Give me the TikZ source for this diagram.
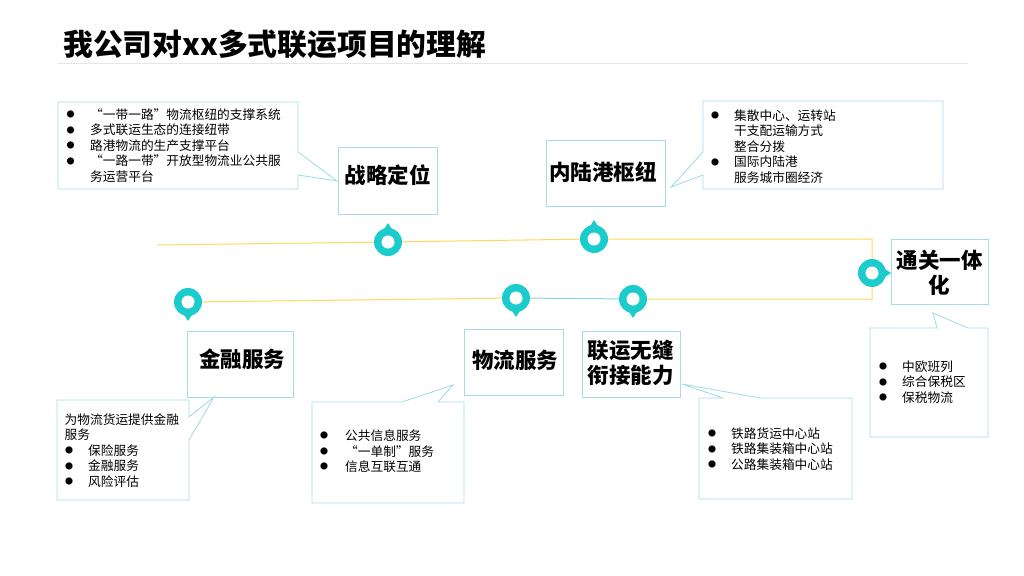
\documentclass[tikz,border=0pt]{standalone}
\usepackage{fontspec}
\setmainfont{Noto Sans CJK SC}
\usetikzlibrary{calc}
\definecolor{boxc}{HTML}{A6DCE9}
\definecolor{pinc}{HTML}{1CCCCC}
\definecolor{yelc}{HTML}{FFD65E}
\definecolor{cyanl}{HTML}{86D3E2}
\definecolor{rulec}{HTML}{E6E6E6}
\newcommand\bulx[1]{\makebox[#1][l]{\hspace{0.5pt}\raisebox{1.6pt}{\fontsize{8}{8}\selectfont ●}}}
\tikzset{
  hbox/.style={draw=boxc, line width=0.9pt},
  htext/.style={font=\fontsize{21.5}{25}\selectfont\bfseries, inner sep=0pt, align=center},
  btext/.style={font=\fontsize{12.7}{15.5}\selectfont, inner sep=0pt, align=left, anchor=north west},
  yline/.style={draw=yelc, line width=1pt},
  cline/.style={draw=cyanl, line width=1pt},
  mappin/.pic={
    \fill[pinc] (0pt,0pt) circle (14pt);
    \fill[pinc] (-4.5pt,12pt) -- (0pt,19pt) -- (4.5pt,12pt) -- cycle;
    \fill[white] (0pt,0pt) circle (6.5pt);
  }
}
\begin{document}
\begin{tikzpicture}[x=1pt,y=-1pt]
\fill[white] (0,0) rectangle (1024,575);
\useasboundingbox (0,0) rectangle (1024,575);

% title
\node[font=\fontsize{29.8}{31}\selectfont\bfseries, anchor=west, inner sep=0pt] (title) at (63,44.5) {我公司对xx多式联运项目的理解};
\coordinate (r1) at (57,63);
\coordinate (r2) at (968,63);
\draw[rulec, line width=0.8pt] (r1) -- (r2);

% pin positions and line ends
\coordinate (s) at (157,245);
\coordinate (p1) at (388,242);
\coordinate (p2) at (594,239);
\coordinate (k1) at (872,239);
\coordinate (p6) at (872,273);
\coordinate (k2) at (872,299);
\coordinate (p5) at (633,299);
\coordinate (p4) at (516,298);
\coordinate (p3) at (188,302);

\draw[yline] (s) -- (p1) -- (p2) -- (k1) -- (k2) -- (p5);
\draw[cline] (p5) -- (p4);
\draw[yline] (p4) -- (p3);

\pic at (p1) {mappin};
\pic at (p2) {mappin};
\pic[rotate=180] at (p3) {mappin};
\pic[rotate=180] at (p4) {mappin};
\pic[rotate=180] at (p5) {mappin};
\pic[rotate=-90] at (p6) {mappin};

% heading boxes
\draw[hbox] (338,147) rectangle (437,214);
\node[htext] (h1) at (387.5,175) {战略定位};
\draw[hbox] (546,140) rectangle (665,206);
\node[htext] (h2) at (603,172) {内陆港枢纽};
\draw[hbox] (891,239) rectangle (988,304);
\node[htext] (h3) at (939.5,272.5) {通关一体\\化};
\draw[hbox] (187,331) rectangle (293,397);
\node[htext] (h4) at (242,359) {金融服务};
\draw[hbox] (464,329) rectangle (563,395);
\node[htext] (h5) at (515,360) {物流服务};
\draw[hbox] (582,331) rectangle (680,397);
\node[htext] (h6) at (630.5,362.5) {联运无缝\\衔接能力};

% callouts
\draw[hbox] (58,102) -- (298,102) -- (298,152) -- (337,181) -- (298,175) -- (298,189) -- (58,189) -- cycle;
\node[btext] (c1) at (66,108.5) {\bulx{24pt}“一带一路”物流枢纽的支撑系统\\
\bulx{24pt}多式联运生态的连接纽带\\
\bulx{24pt}路港物流的生产支撑平台\\
\bulx{24pt}“一路一带”开放型物流业公共服\\
\hspace*{24pt}务运营平台};

\draw[hbox] (703,101) -- (943,101) -- (943,189) -- (703,189) -- (703,175) -- (671,187) -- (703,152) -- cycle;
\node[btext] (c2) at (710.5,109.5) {\bulx{23.5pt}集散中心、运转站\\
\hspace*{23.5pt}干支配运输方式\\
\hspace*{23.5pt}整合分拨\\
\bulx{23.5pt}国际内陆港\\
\hspace*{23.5pt}服务城市圈经济};

\draw[hbox] (57,400) -- (189,400) -- (189,417) -- (214,397) -- (189,440) -- (189,500) -- (57,500) -- cycle;
\node[btext] (c3) at (64.5,413.5) {为物流货运提供金融\\服务\\
\bulx{23.5pt}保险服务\\
\bulx{23.5pt}金融服务\\
\bulx{23.5pt}风险评估};

\draw[hbox] (312,402) -- (402,402) -- (453,385) -- (438,402) -- (464,402) -- (464,503) -- (312,503) -- cycle;
\node[btext] (c4) at (319.5,429.5) {\bulx{25.5pt}公共信息服务\\
\bulx{25.5pt}“一单制”服务\\
\bulx{25.5pt}信息互联互通};

\draw[hbox] (699,398) -- (723,398) -- (682,384) -- (760,398) -- (852,398) -- (852,499) -- (699,499) -- cycle;
\node[btext] (c5) at (707.5,427.5) {\bulx{23.5pt}铁路货运中心站\\
\bulx{23.5pt}铁路集装箱中心站\\
\bulx{23.5pt}公路集装箱中心站};

\draw[hbox] (870,328) -- (937,328) -- (933,313) -- (968,328) -- (988,328) -- (988,437) -- (870,437) -- cycle;
\node[btext] (c6) at (878.5,360.5) {\bulx{23.5pt}中欧班列\\
\bulx{23.5pt}综合保税区\\
\bulx{23.5pt}保税物流};
\end{tikzpicture}
\end{document}
